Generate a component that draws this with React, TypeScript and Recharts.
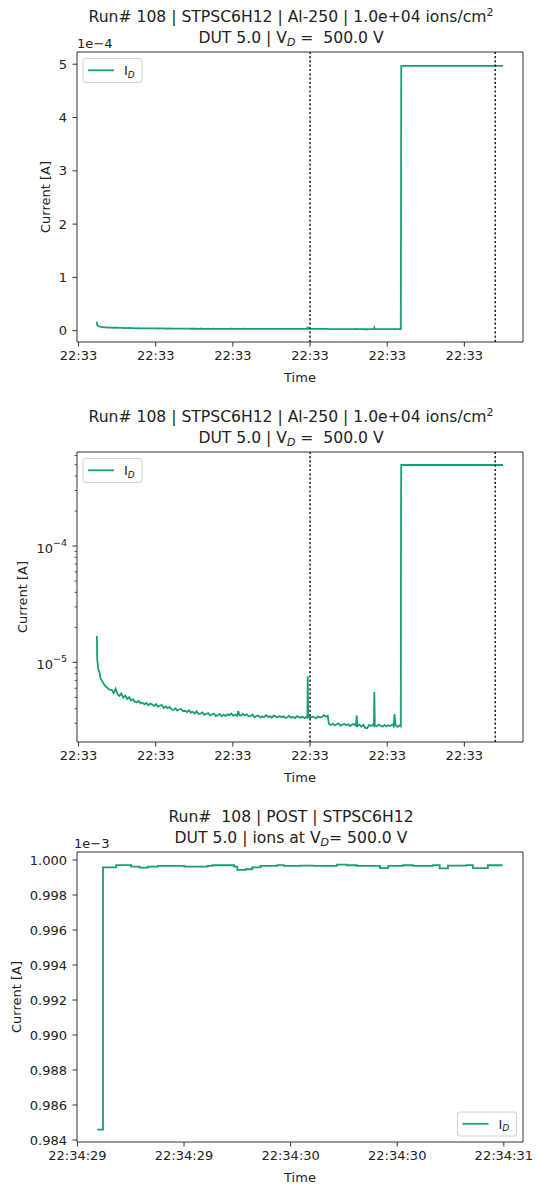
import React from 'react';
import { LineChart, Line, XAxis, YAxis, ReferenceLine, ReferenceArea } from 'recharts';

const FONT = '"DejaVu Sans", "Liberation Sans", sans-serif';
const GREEN = '#1b9e77';
const INK = '#222222';
const SPINE = '#333333';

// ---------- Run 108 irradiation: seconds after 22:33:00, drain current in µA ----------
const runTimeS = [
  2.37, 2.42, 2.58, 2.70, 2.85, 3.05, 3.30, 3.55, 3.80, 4.05,
  4.30, 4.55, 4.80, 5.05, 5.30, 5.55, 5.80, 6.05, 6.30, 6.55,
  6.80, 7.05, 7.30, 7.55, 7.80, 8.05, 8.30, 8.55, 8.80, 9.05,
  9.30, 9.55, 9.80, 10.05, 10.30, 10.55, 10.80, 11.05, 11.30, 11.55,
  11.80, 12.05, 12.30, 12.55, 12.80, 13.05, 13.30, 13.55, 13.80, 14.05,
  14.30, 14.55, 14.80, 15.05, 15.30, 15.55, 15.80, 16.05, 16.30, 16.55,
  16.80, 17.05, 17.30, 17.55, 17.80, 18.05, 18.30, 18.55, 18.80, 19.05,
  19.30, 19.55, 19.80, 20.05, 20.30, 20.55, 20.70, 20.85, 21.10, 21.30,
  21.55, 21.80, 22.05, 22.30, 22.55, 22.80, 23.05, 23.30, 23.55, 23.80,
  24.05, 24.30, 24.55, 24.80, 25.05, 25.30, 25.55, 25.80, 26.05, 26.30,
  26.55, 26.80, 27.05, 27.30, 27.55, 27.80, 28.05, 28.30, 28.55, 28.80,
  29.05, 29.30, 29.55, 29.66, 29.70, 29.76, 30.05, 30.30, 30.55, 30.80,
  31.05, 31.30, 31.55, 31.80, 32.05, 32.30, 32.45, 32.70, 32.95, 33.20,
  33.45, 33.70, 33.95, 34.20, 34.45, 34.70, 34.95, 35.20, 35.45, 35.70,
  35.95, 36.05, 36.15, 36.40, 36.65, 36.90, 37.15, 37.40, 37.65, 37.90,
  38.15, 38.28, 38.33, 38.40, 38.65, 38.90, 39.15, 39.40, 39.65, 39.90,
  40.15, 40.40, 40.65, 40.85, 40.95, 41.08, 41.35, 41.60, 41.76, 41.79,
  41.82, 45.00, 50.00, 55.00,
];
const drainCurrentUA = [
  16.9, 10.6, 8.6, 8.3, 7.3, 6.9, 6.5, 6.2, 6.0, 5.8,
  5.8, 5.45, 5.95, 5.35, 5.15, 5.4, 4.98, 5.18, 4.85, 5.02,
  4.7, 4.82, 4.6, 4.52, 4.68, 4.44, 4.5, 4.36, 4.48, 4.28,
  4.42, 4.34, 4.22, 4.38, 4.16, 4.26, 4.3, 4.06, 4.18, 4.04,
  4.14, 3.96, 3.9, 4.04, 3.86, 3.94, 3.98, 3.8, 3.84, 3.74,
  3.88, 3.7, 3.76, 3.64, 3.8, 3.6, 3.62, 3.72, 3.54, 3.6,
  3.66, 3.5, 3.58, 3.62, 3.46, 3.52, 3.6, 3.44, 3.56, 3.46,
  3.58, 3.52, 3.64, 3.48, 3.56, 3.46, 3.82, 3.52, 3.5, 3.62,
  3.5, 3.58, 3.44, 3.46, 3.56, 3.38, 3.46, 3.5, 3.36, 3.44,
  3.38, 3.52, 3.4, 3.44, 3.34, 3.5, 3.42, 3.36, 3.46, 3.38,
  3.44, 3.34, 3.36, 3.48, 3.35, 3.4, 3.32, 3.46, 3.38, 3.34,
  3.42, 3.32, 3.4, 3.36, 7.6, 3.46, 3.34, 3.42, 3.38, 3.3,
  3.44, 3.36, 3.4, 3.52, 3.42, 3.48, 2.96, 2.9, 2.98, 2.88,
  2.94, 2.98, 2.86, 2.92, 2.96, 2.88, 2.94, 2.84, 2.92, 2.95,
  2.86, 3.5, 2.84, 2.92, 2.8, 2.9, 2.74, 2.72, 2.9, 2.84,
  2.92, 2.86, 5.58, 2.88, 2.82, 2.92, 2.86, 2.8, 2.9, 2.82,
  2.9, 2.84, 2.92, 2.82, 3.6, 2.9, 2.8, 2.88, 2.82, 210,
  497, 497, 497, 497,
];
const runTimeTicks = [0, 10, 20, 30, 40, 50];
const runTickLabel = '22:33';
const runMarkersS = [30, 54];
const linearTicks = [0, 1e-4, 2e-4, 3e-4, 4e-4, 5e-4];
const logTicks = [
  3e-6, 4e-6, 5e-6, 6e-6, 7e-6, 8e-6, 9e-6, 1e-5,
  2e-5, 3e-5, 4e-5, 5e-5, 6e-5, 7e-5, 8e-5, 9e-5, 1e-4,
  2e-4, 3e-4, 4e-4, 5e-4, 6e-4,
];

// ---------- POST check: seconds after 22:34:00, drain current in mA ----------
const postTimeS = [
  29.093, 29.120, 29.182, 29.252, 29.291, 29.330, 29.377, 29.501, 29.610, 29.633,
  29.735, 29.750, 29.789, 29.820, 29.859, 29.937, 29.968, 30.046, 30.108, 30.217,
  30.264, 30.310, 30.419, 30.458, 30.528, 30.575, 30.668, 30.699, 30.738, 30.824,
  30.855, 30.925, 30.995,
];
const postCurrentMA = [
  0.98459, 0.99958, 0.99971, 0.99962, 0.99956, 0.99962, 0.99966, 0.99962, 0.99966, 0.99970,
  0.99962, 0.99943, 0.99947, 0.99958, 0.99966, 0.99971, 0.99966, 0.99968, 0.99966, 0.99973,
  0.99970, 0.99966, 0.99954, 0.99966, 0.99970, 0.99966, 0.99971, 0.99952, 0.99968, 0.99971,
  0.99954, 0.99970, 0.99970,
];
const postTimeTicks = [29, 29.5, 30, 30.5, 31];
const postCurrentTicks = [0.984, 0.986, 0.988, 0.99, 0.992, 0.994, 0.996, 0.998, 1.0];

const runData = runTimeS.map((t, k) => ({ t, id: drainCurrentUA[k] * 1e-6 }));
const postData = postTimeS.map((t, k) => ({ t, id: postCurrentMA[k] }));

const W = 536;
const MARGIN = { top: 52, right: 13, bottom: 28, left: 0 };
const tickStyle = { fontSize: 13, fill: INK, fontFamily: FONT };

const RUN_X_DOMAIN: [number, number] = [-0.2, 57.6];
const LIN_Y_DOMAIN: [number, number] = [-0.212e-4, 5.229e-4];
const LOG_Y_DOMAIN: [number, number] = [2.07e-6, 6.43e-4];
const POST_X_DOMAIN: [number, number] = [28.998, 31.09];
const POST_Y_DOMAIN: [number, number] = [0.983886, 1.000457];

const LogTick = (props: any) => {
  const { x, y, payload } = props;
  const v = payload.value as number;
  const e = Math.log10(v);
  const major = Math.abs(e - Math.round(e)) < 1e-6;
  const len = major ? 4.5 : 2.5;
  return (
    <g>
      <line x1={x} x2={x - len} y1={y} y2={y} stroke={SPINE} strokeWidth={major ? 1 : 0.8} />
      {major && (
        <text x={x - 10} y={y} dy={7} textAnchor="end" fontSize={13} fill={INK} fontFamily={FONT}>
          10
          <tspan dy={-7} fontSize={9.5}>{'\u2212' + Math.abs(Math.round(e))}</tspan>
        </text>
      )}
    </g>
  );
};

const PRE: React.CSSProperties = { whiteSpace: 'pre' };

const Sub = ({ children }: { children: string }) => (
  <tspan fontStyle="italic" fontSize={11} dy={3}>{children}</tspan>
);

function Legend({ x, y }: { x: number; y: number }) {
  return (
    <g>
      <rect x={x} y={y} width={59} height={24} rx={3} fill="#ffffff" fillOpacity={0.8} stroke="#d0d0d0" strokeWidth={1} />
      <line x1={x + 5} x2={x + 31} y1={y + 11.8} y2={y + 11.8} stroke={GREEN} strokeWidth={1.8} />
      <text x={x + 41} y={y + 16.5} fontSize={13} fill={INK} fontFamily={FONT}>
        I<tspan fontStyle="italic" fontSize={9} dy={2.5}>D</tspan>
      </text>
    </g>
  );
}

function Overlay({
  line1, line2, offsetText, offsetX, yLabelX, legend,
}: {
  line1: React.ReactNode; line2: React.ReactNode; offsetText: string; offsetX: number; yLabelX: number; legend: [number, number];
}) {
  return (
    <svg width={W} height={400} style={{ position: 'absolute', left: 0, top: 0, pointerEvents: 'none', overflow: 'visible' }}>
      <g fontFamily={FONT} fill={INK}>
        <text x={291} y={21.7} textAnchor="middle" fontSize={15.6} xmlSpace="preserve" style={PRE}>{line1}</text>
        <text x={291} y={42.7} textAnchor="middle" fontSize={15.6} xmlSpace="preserve" style={PRE}>{line2}</text>
        <text x={offsetX} y={48} fontSize={13}>{offsetText}</text>
        <text x={300} y={382} textAnchor="middle" fontSize={13}>Time</text>
        <text transform={`translate(${yLabelX},197) rotate(-90)`} textAnchor="middle" fontSize={13}>Current [A]</text>
      </g>
      <Legend x={legend[0]} y={legend[1]} />
    </svg>
  );
}

const runTitle1 = (
  <>
    Run# 108 | STPSC6H12 | Al-250 | 1.0e+04 ions/cm<tspan dy={-6} fontSize={11}>2</tspan>
  </>
);
const runTitle2 = (
  <>
    DUT 5.0 | V<Sub>D</Sub><tspan dy={-3} xmlSpace="preserve" style={PRE}>{' =  500.0 V'}</tspan>
  </>
);
const postTitle1 = <tspan xmlSpace="preserve" style={PRE}>{'Run#  108 | POST | STPSC6H12'}</tspan>;
const postTitle2 = (
  <>
    DUT 5.0 | ions at V<Sub>D</Sub><tspan dy={-3}>{'= 500.0 V'}</tspan>
  </>
);

function RunChart({ log }: { log: boolean }) {
  const yDomain = log ? LOG_Y_DOMAIN : LIN_Y_DOMAIN;
  return (
    <LineChart width={W} height={400} data={runData} margin={MARGIN}>
      <XAxis
        dataKey="t" type="number" domain={RUN_X_DOMAIN} allowDataOverflow ticks={runTimeTicks} interval={0}
        tickFormatter={() => runTickLabel} height={30} tickSize={4.5} tickMargin={4.5}
        axisLine={false} stroke={SPINE} tick={tickStyle}
      />
      {log ? (
        <YAxis
          type="number" scale="log" domain={yDomain} allowDataOverflow ticks={logTicks} interval={0}
          width={77} tickSize={0} tickMargin={0} tickLine={false} axisLine={false} tick={(p: any) => <LogTick {...p} />}
        />
      ) : (
        <YAxis
          type="number" domain={yDomain} allowDataOverflow ticks={linearTicks} interval={0}
          tickFormatter={(v: number) => String(Math.round(v * 1e4))}
          width={77} tickSize={4.5} tickMargin={5.5} axisLine={false} stroke={SPINE} tick={tickStyle}
        />
      )}
      <Line dataKey="id" type="linear" stroke={GREEN} strokeWidth={1.8} dot={false} isAnimationActive={false} />
      {runMarkersS.map((m) => (
        <ReferenceLine key={m} x={m} stroke="#111111" strokeWidth={1.4} strokeDasharray="2.2 2.1" />
      ))}
      <ReferenceArea
        x1={RUN_X_DOMAIN[0]} x2={RUN_X_DOMAIN[1]} y1={yDomain[0]} y2={yDomain[1]}
        fill="none" stroke={SPINE} strokeWidth={1} ifOverflow="visible"
      />
    </LineChart>
  );
}

function PostChart() {
  return (
    <LineChart width={W} height={387} data={postData} margin={{ ...MARGIN, bottom: 15 }}>
      <XAxis
        dataKey="t" type="number" domain={POST_X_DOMAIN} allowDataOverflow ticks={postTimeTicks} interval={0}
        tickFormatter={(v: number) => `22:34:${Math.floor(v + 1e-9)}`} height={30} tickSize={4.5} tickMargin={4.5}
        axisLine={false} stroke={SPINE} tick={tickStyle}
      />
      <YAxis
        type="number" domain={POST_Y_DOMAIN} allowDataOverflow ticks={postCurrentTicks} interval={0}
        tickFormatter={(v: number) => v.toFixed(3)}
        width={77} tickSize={4.5} tickMargin={5.5} axisLine={false} stroke={SPINE} tick={tickStyle}
      />
      <Line dataKey="id" type="stepAfter" stroke={GREEN} strokeWidth={1.8} dot={false} isAnimationActive={false} />
      <ReferenceArea
        x1={POST_X_DOMAIN[0]} x2={POST_X_DOMAIN[1]} y1={POST_Y_DOMAIN[0]} y2={POST_Y_DOMAIN[1]}
        fill="none" stroke={SPINE} strokeWidth={1} ifOverflow="visible"
      />
    </LineChart>
  );
}

export default function App() {
  return (
    <div style={{ position: 'absolute', left: 0, top: 0, width: W, height: 1187, background: '#ffffff', fontFamily: FONT }}>
      <div style={{ position: 'absolute', left: 0, top: 0, width: W, height: 400 }}>
        <RunChart log={false} />
        <Overlay line1={runTitle1} line2={runTitle2} offsetText={'1e\u22124'} offsetX={77} yLabelX={50} legend={[83, 58.5]} />
      </div>
      <div style={{ position: 'absolute', left: 0, top: 400, width: W, height: 400 }}>
        <RunChart log={true} />
        <Overlay line1={runTitle1} line2={runTitle2} offsetText={''} offsetX={77} yLabelX={27} legend={[83, 58.5]} />
      </div>
      <div style={{ position: 'absolute', left: 0, top: 800, width: W, height: 387 }}>
        <PostChart />
        <Overlay line1={postTitle1} line2={postTitle2} offsetText={'1e\u22123'} offsetX={74} yLabelX={20.7} legend={[457.5, 312]} />
      </div>
    </div>
  );
}
